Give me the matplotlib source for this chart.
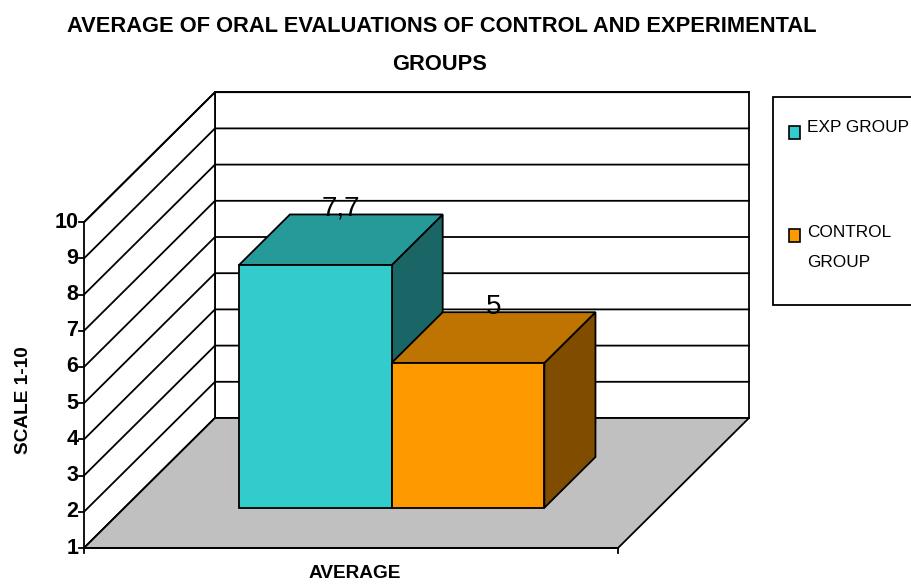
import matplotlib
matplotlib.use('Agg')
import matplotlib.pyplot as plt
from matplotlib.patches import Polygon, Rectangle
from matplotlib import font_manager

# data
groups = ['EXP GROUP', 'CONTROL\nGROUP']
values = [7.7, 5]
value_labels = ['7,7', '5']
colors = ['#33CCCC', '#FF9900']
top_colors = ['#269999', '#BF7300']
side_colors = ['#1A6666', '#804C00']
yticks = list(range(1, 11))
category = 'AVERAGE'

names = {f.name for f in font_manager.fontManager.ttflist}
narrow = 'Liberation Sans Narrow' if 'Liberation Sans Narrow' in names else 'Liberation Sans'
shrink = 1.0 if narrow == 'Liberation Sans Narrow' else 0.83

# oblique 3d helpers (units: 1 = one value step)
U = 36.2                      # px per unit
DX, DY = 131 / U, 130 / U     # depth vector
W = 534 / U                   # floor width
VMIN, VMAX = 1, 10


def P(x, v, d=0.0):
    return (x + d * DX, v + d * DY)


fig = plt.figure(figsize=(9.12, 5.85), dpi=100)
ax = fig.add_axes([0, 0, 1, 1])
ax.set_xlim(-84 / U, (912 - 84) / U)
ax.set_ylim(1 - 37 / U, 1 + 548 / U)
ax.axis('off')

lw = 1.3
# back wall
ax.add_patch(Polygon([P(0, VMIN, 1), P(W, VMIN, 1), P(W, VMAX, 1), P(0, VMAX, 1)],
                     closed=True, facecolor='white', edgecolor='black', lw=lw, zorder=1))
# left wall
ax.add_patch(Polygon([P(0, VMIN, 0), P(0, VMIN, 1), P(0, VMAX, 1), P(0, VMAX, 0)],
                     closed=True, facecolor='white', edgecolor='black', lw=lw, zorder=1))
for v in yticks:
    ax.plot(*zip(P(0, v, 0), P(0, v, 1), P(W, v, 1)), color='black', lw=lw, zorder=1)
# floor
ax.add_patch(Polygon([P(0, VMIN, 0), P(W, VMIN, 0), P(W, VMIN, 1), P(0, VMIN, 1)],
                     closed=True, facecolor='#C0C0C0', edgecolor='black', lw=lw, zorder=2))

# ticks and tick labels
tk = 5 / U
for v in yticks:
    ax.plot([-tk, 0], [v, v], color='black', lw=lw, zorder=3)
    ax.text(-tk - 0.02, v, str(v), ha='right', va='center', fontsize=15.5,
            fontweight='bold', family='Liberation Sans', zorder=3)
ax.plot([0, 0], [VMIN, VMIN - tk], color='black', lw=lw, zorder=3)
ax.plot([W, W], [VMIN, VMIN - tk], color='black', lw=lw, zorder=3)
ax.plot([0, W], [VMIN, VMIN], color='black', lw=lw, zorder=3)

# bars
bw = 4.22
d0, d1 = 0.31, 0.70
x_start = W / 2 - bw * len(values) / 2
for i, v in enumerate(values):
    x0 = x_start + i * bw
    x1 = x0 + bw
    z = 4 + i
    front = [P(x0, VMIN, d0), P(x1, VMIN, d0), P(x1, v, d0), P(x0, v, d0)]
    top = [P(x0, v, d0), P(x1, v, d0), P(x1, v, d1), P(x0, v, d1)]
    side = [P(x1, VMIN, d0), P(x1, VMIN, d1), P(x1, v, d1), P(x1, v, d0)]
    ax.add_patch(Polygon(side, closed=True, facecolor=side_colors[i], edgecolor='black', lw=lw, zorder=z))
    ax.add_patch(Polygon(top, closed=True, facecolor=top_colors[i], edgecolor='black', lw=lw, zorder=z))
    ax.add_patch(Polygon(front, closed=True, facecolor=colors[i], edgecolor='black', lw=lw, zorder=z))
    lx = P((x0 + x1) / 2, v, (d0 + d1) / 2)[0]
    ly = P((x0 + x1) / 2, v, d1)[1]
    ax.annotate(value_labels[i], (lx, ly), xytext=(0, 4), textcoords='offset points',
                ha='center', va='center', fontsize=20, family='Liberation Sans', zorder=10)

# titles and axis labels
fig.text(442 / 912, 1 - 27 / 585, 'AVERAGE OF ORAL EVALUATIONS OF CONTROL AND EXPERIMENTAL',
         ha='center', va='center', fontsize=19 * shrink, fontweight='bold', family=narrow)
fig.text(440 / 912, 1 - 64 / 585, 'GROUPS',
         ha='center', va='center', fontsize=19 * shrink, fontweight='bold', family=narrow)
fig.text(24 / 912, 1 - 400 / 585, 'SCALE 1-10', rotation=90, ha='center', va='center',
         fontsize=16.5 * shrink, fontweight='bold', family=narrow)
fig.text(355 / 912, 1 - 573 / 585, category, ha='center', va='center',
         fontsize=16.5 * shrink, fontweight='bold', family=narrow)

# legend
fig.patches.append(Rectangle((773 / 912, 1 - 305 / 585), 160 / 912, 208 / 585,
                             transform=fig.transFigure, facecolor='white',
                             edgecolor='black', lw=lw, figure=fig))
leg_sq = [132, 235]
leg_txt = [128, 247.5]
for i, g in enumerate(groups):
    fig.patches.append(Rectangle((789 / 912, 1 - (leg_sq[i] + 7) / 585), 11 / 912, 13 / 585,
                                 transform=fig.transFigure, facecolor=colors[i],
                                 edgecolor='black', lw=1.2, figure=fig))
    fig.text(807 / 912, 1 - leg_txt[i] / 585, g, ha='left', va='center',
             fontsize=15 * shrink, family=narrow, linespacing=2.25)

fig.savefig('out.png', dpi=100)
